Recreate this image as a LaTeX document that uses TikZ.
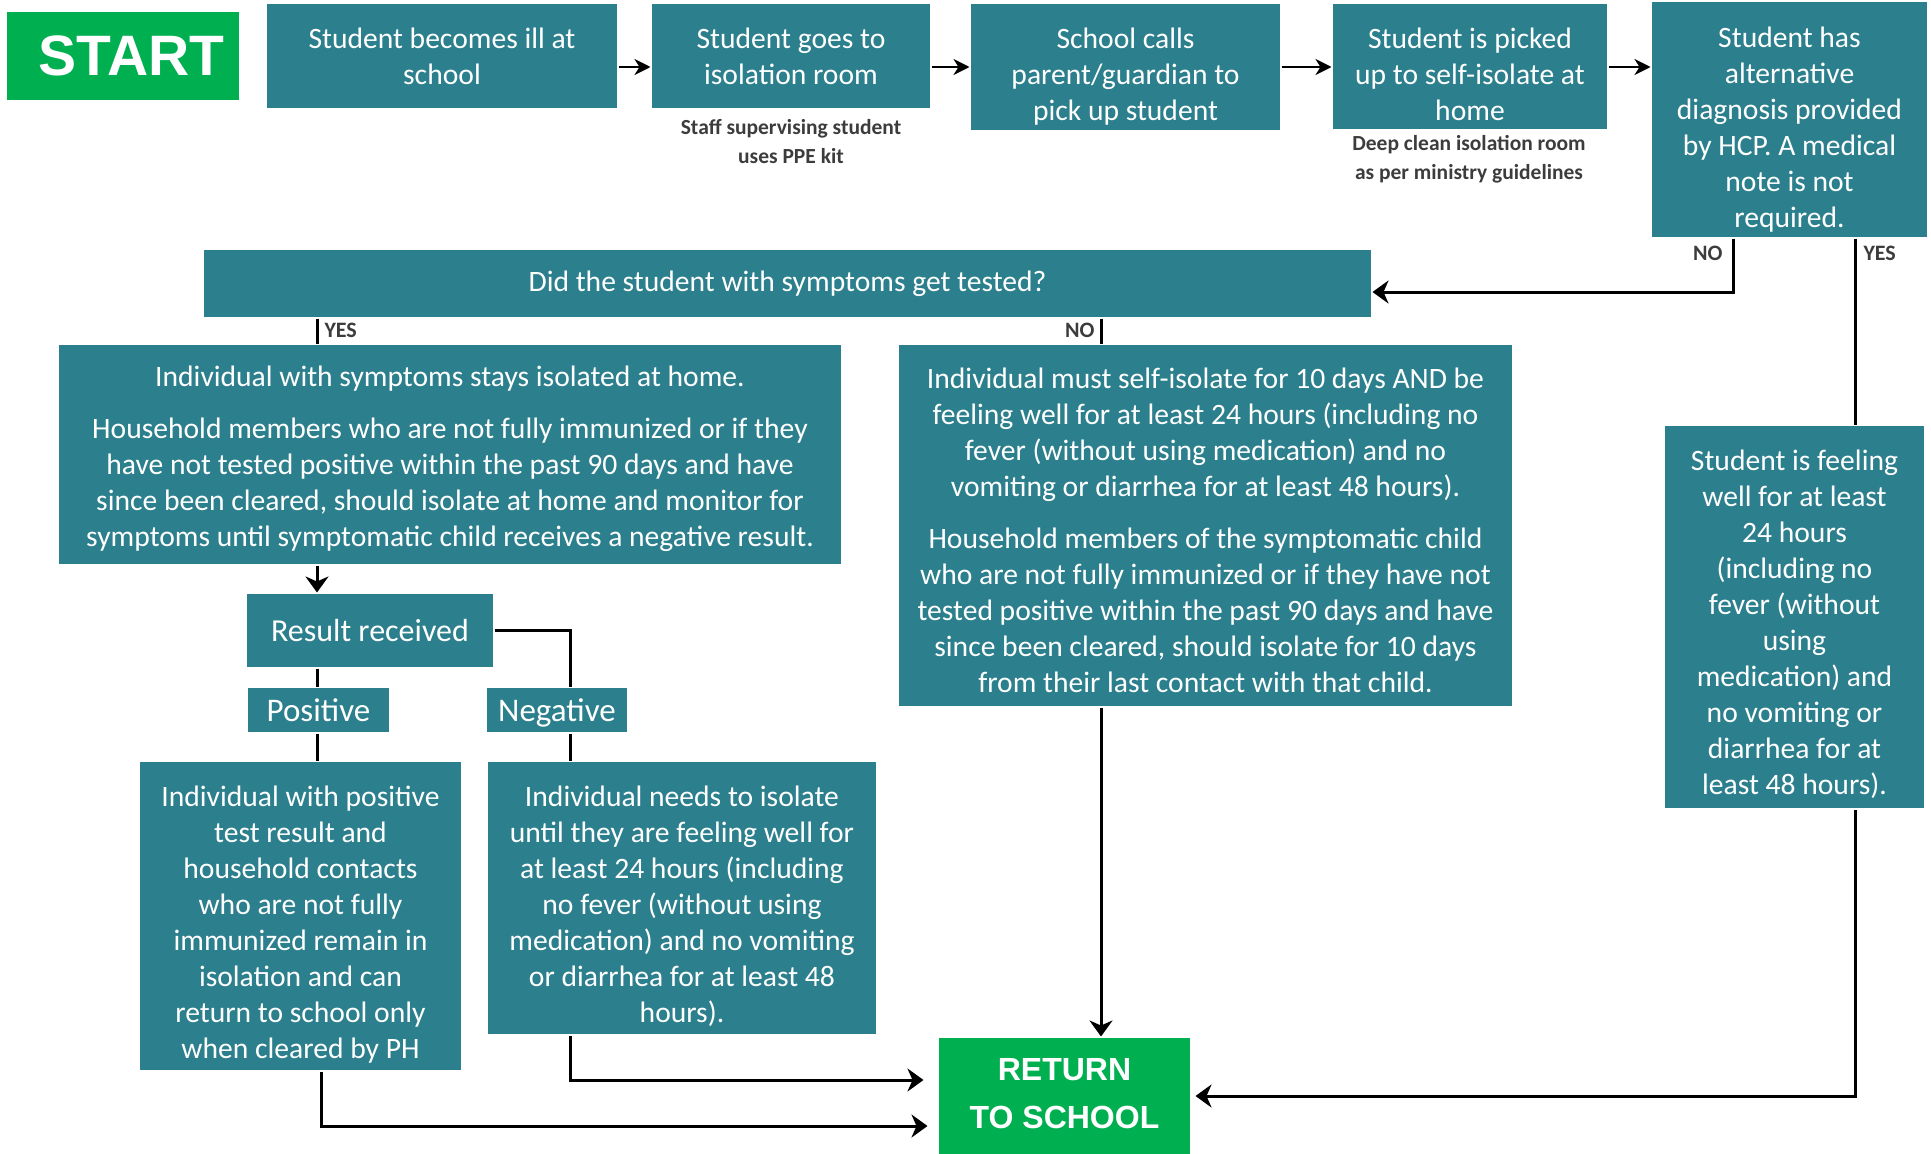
\documentclass[tikz,border=0pt]{standalone}
\usepackage{fontspec}
\setmainfont{Carlito}
\newfontfamily\arialfont{Liberation Sans}
\usetikzlibrary{arrows.meta}

\definecolor{boxteal}{RGB}{44,127,140}
\definecolor{boxgreen}{RGB}{0,176,80}
\definecolor{notegray}{RGB}{60,60,60}

\tikzset{every picture/.style={line width=3pt}}
\tikzset{
  flowbox/.style={fill=boxteal, text=white, align=center, inner sep=0pt, font=\fontsize{29.6}{36}\selectfont},
  boxsize/.style 2 args={minimum width=#1, minimum height=#2},
  lowtext/.style={text height=#1, text depth=0pt},
  endbox/.style={fill=boxgreen, text=white, align=center, inner sep=0pt, font=\arialfont\bfseries\fontsize{32}{48}\selectfont},
  capnote/.style={text=notegray, align=center, inner sep=0pt, font=\bfseries\fontsize{21.5}{29}\selectfont},
  branchtag/.style={text=notegray, inner sep=0pt, font=\bfseries\fontsize{22}{24}\selectfont},
  arrowline/.style={-{Stealth[length=16pt,width=23pt,inset=5pt]}},
  toparrow/.style={line width=2.7pt, -{Stealth[length=16pt,width=16pt,inset=5pt]}},
}

\begin{document}
\begin{tikzpicture}[x=1pt,y=1pt,yscale=-1,xscale=1]
\useasboundingbox (0,0) rectangle (1931,1154);

% Text Node
\node[endbox, minimum width=232pt, minimum height=88pt, font=\arialfont\bfseries\fontsize{57}{60}\selectfont, execute at begin node={\hspace*{18pt}}] (start) at (122.5,55.5) {START};
% Text Node
\node[flowbox, boxsize={350pt}{104pt}] (ill) at (442,56) {Student becomes ill at\\school};
% Text Node
\node[flowbox, boxsize={278pt}{104pt}] (room) at (791,56) {Student goes to\\isolation room};
% Text Node
\node[capnote] (staffnote) at (791,142) {Staff supervising student\\uses PPE kit};
% Text Node
\node[flowbox, boxsize={309pt}{126pt}, lowtext=107.5pt] (calls) at (1125.5,67) {School calls\\parent/guardian to\\pick up student};
% Text Node
\node[flowbox, boxsize={274pt}{125pt}, lowtext=107.5pt] (pickup) at (1470,66.5) {Student is picked\\up to self-isolate at\\home};
% Text Node
\node[capnote] (cleannote) at (1469,159.5) {Deep clean isolation room\\as per ministry guidelines};
% Text Node
\node[flowbox, boxsize={275pt}{235pt}, lowtext=215.5pt] (alt) at (1789.5,119.5) {Student has\\alternative\\diagnosis provided\\by HCP. A medical\\note is not\\required.};
% Text Node
\node[flowbox, boxsize={1167pt}{67pt}] (tested) at (787.5,283.5) {Did the student with symptoms get tested?};
% Text Node
\node[flowbox, boxsize={782pt}{219pt}, lowtext=184.5pt] (homeiso) at (450,454.5) {Individual with symptoms stays isolated at home.\\[16pt]Household members who are not fully immunized or if they\\have not tested positive within the past 90 days and have\\since been cleared, should isolate at home and monitor for\\symptoms until symptomatic child receives a negative result.};
% Text Node
\node[flowbox, boxsize={613pt}{361pt}, lowtext=333pt] (selfiso) at (1205.5,525.5) {Individual must self-isolate for 10 days AND be\\feeling well for at least 24 hours (including no\\fever (without using medication) and no\\vomiting or diarrhea for at least 48 hours).\\[16pt]Household members of the symptomatic child\\who are not fully immunized or if they have not\\tested positive within the past 90 days and have\\since been cleared, should isolate for 10 days\\from their last contact with that child.};
% Text Node
\node[flowbox, boxsize={259pt}{382pt}, lowtext=354.5pt] (wellnote) at (1794.5,617) {Student is feeling\\well for at least\\24 hours\\(including no\\fever (without\\using\\medication) and\\no vomiting or\\diarrhea for at\\least 48 hours).};
% Text Node
\node[flowbox, boxsize={246pt}{73pt}, font=\fontsize{32}{36}\selectfont] (result) at (370,630.5) {Result received};
% Text Node
\node[flowbox, boxsize={141pt}{44pt}, font=\fontsize{33}{36}\selectfont] (positive) at (318.5,710) {Positive};
% Text Node
\node[flowbox, boxsize={140pt}{44pt}, font=\fontsize{33}{36}\selectfont, text depth=0pt] (negative) at (557,710) {Negative};
% Text Node
\node[flowbox, boxsize={321pt}{308pt}, lowtext=285pt] (posdet) at (300.5,916) {Individual with positive\\test result and\\household contacts\\who are not fully\\immunized remain in\\isolation and can\\return to school only\\when cleared by PH};
% Text Node
\node[flowbox, boxsize={388pt}{272pt}, lowtext=249pt] (negdet) at (682,898) {Individual needs to isolate\\until they are feeling well for\\at least 24 hours (including\\no fever (without using\\medication) and no vomiting\\or diarrhea for at least 48\\hours).};
% Text Node
\node[endbox, minimum width=251pt, minimum height=116pt, text depth=6pt] (ret) at (1064.5,1096) {RETURN\\TO SCHOOL};

% Labels
\node[branchtag, anchor=east] (altno) at (1724,253) {NO};
\node[branchtag, anchor=west] (altyes) at (1862,253) {YES};
\node[branchtag, anchor=west] (testyes) at (323,330) {YES};
\node[branchtag, anchor=east] (testno) at (1096,330) {NO};

% Turning points
\coordinate (yesx) at (317,0);
\coordinate (posx) at (321,0);
\coordinate (negx) at (570,0);
\coordinate (nox) at (1101,0);
\coordinate (altyesx) at (1855,0);
\coordinate (noturn) at (1733,292);
\coordinate (negrow) at (0,1080);
\coordinate (posrow) at (0,1126);

% Connection
\draw[toparrow] (ill.east |- calls) -- (room.west |- calls);
\draw[toparrow] (room.east |- calls) -- (calls.west);
\draw[toparrow] (calls.east) -- (pickup.west |- calls);
\draw[toparrow] (pickup.east |- calls) -- (alt.west |- calls);
% Connection
\draw[arrowline] (alt.south -| noturn) |- (tested.east |- noturn);
\draw (alt.south -| altyesx) -- (wellnote.north -| altyesx);
% Connection
\draw (tested.south -| yesx) -- (homeiso.north -| yesx);
\draw (tested.south -| nox) -- (selfiso.north -| nox);
\draw[arrowline] (homeiso.south -| yesx) -- (result.north -| yesx);
% Connection
\draw (result.south -| yesx) -- (positive.north -| yesx);
\draw (result.east) -| (negative.north -| negx);
\draw (positive.south -| yesx) -- (posdet.north -| yesx);
\draw (negative.south -| negx) -- (negdet.north -| negx);
% Connection
\draw[arrowline, shorten >=10pt] (posdet.south -| posx) |- (ret.west |- posrow);
\draw[arrowline, shorten >=14pt] (negdet.south -| negx) |- (ret.west |- negrow);
\draw[arrowline] (selfiso.south -| nox) -- (ret.north -| nox);
\draw[arrowline, shorten >=4pt] (wellnote.south -| altyesx) |- (ret.east);

\end{tikzpicture}
\end{document}
